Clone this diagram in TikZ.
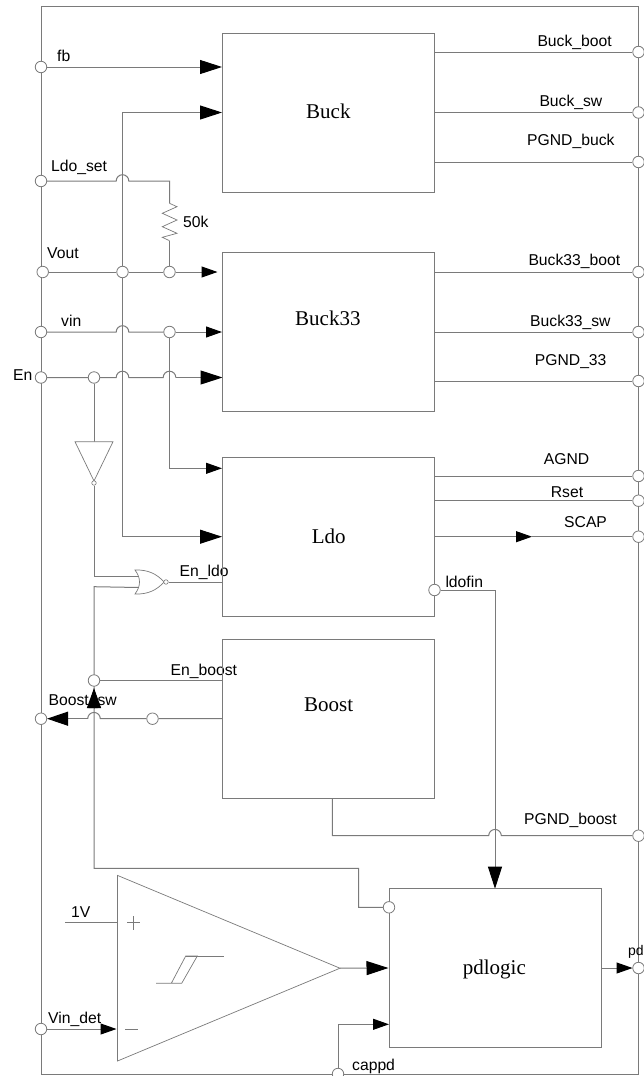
\documentclass[tikz,border=0pt]{standalone}
\usepackage{fontspec}
\setmainfont{Liberation Sans}
\newfontfamily\blockfont{Liberation Serif}
\usetikzlibrary{arrows.meta,backgrounds,calc}
\definecolor{ln}{HTML}{7A7A7A}
\tikzset{
  wire/.style={draw=ln,line width=1pt},
  thin shape/.style={draw=ln,line width=.7pt,fill=white},
  pin/.style={circle,draw=ln,line width=.8pt,fill=white,minimum size=11.5pt,inner sep=0pt},
  dot/.style={circle,draw=ln,line width=.6pt,fill=white,minimum size=4.5pt,inner sep=0pt},
  block/.style={rectangle,draw=ln,line width=1pt,minimum width=212pt,minimum height=159pt,inner sep=0pt},
  lbl/.style={anchor=base west,inner sep=0pt,font=\fontsize{15.7}{18}\selectfont},
  blbl/.style={anchor=base west,inner sep=0pt,font=\blockfont\fontsize{21}{24}\selectfont},
  big/.style={wire,-{Triangle[length=22pt,width=14pt,color=black,fill=black]}},
  small/.style={wire,-{Triangle[length=16pt,width=11pt,color=black,fill=black]}},
}
\begin{document}
\begin{tikzpicture}[x=1pt,y=-1pt]
\useasboundingbox (0,0) rectangle (644,1076);
% blocks
\node[block] (buck) at (328.5,112.5) {};
\node[block] (buck33) at (328.5,332) {};
\node[block] (ldo) at (328.5,536.7) {};
\node[block] (boost) at (328.5,718.5) {};
\node[block] (pdl) at (495,968) {};
\node[blbl] (tbuck) at (306,118.3) {Buck};
\node[blbl] (tbuckb) at (295,325) {Buck33};
\node[blbl] (tldo) at (311.7,543) {Ldo};
\node[blbl] (tboost) at (304,711.7) {Boost};
\node[blbl] (tpd) at (462.7,974) {pdlogic};
% left pins
\node[pin] (fb) at (41,67) {};
\node[pin] (ldoset) at (41,181) {};
\node[pin] (vout) at (42.7,272) {};
\node[pin] (vin) at (41,332) {};
\node[pin] (en) at (41,377.5) {};
\node[pin] (bsw) at (41,718.7) {};
\node[pin] (vindet) at (41,1029) {};
% right pins
\node[pin] (rbb) at (638.5,52) {};
\node[pin] (rbs) at (638.5,112.5) {};
\node[pin] (rpb) at (638.5,162) {};
\node[pin] (r3b) at (638.5,272) {};
\node[pin] (r3s) at (638.5,332) {};
\node[pin] (rp3) at (638.5,381) {};
\node[pin] (ragnd) at (638.5,476) {};
\node[pin] (rrset) at (638.5,500.7) {};
\node[pin] (rscap) at (638.5,536.7) {};
\node[pin] (rpgb) at (638.5,835.7) {};
\node[pin] (rpd) at (638.5,968) {};
% inner junctions
\node[pin] (jv1) at (122.5,272) {};
\node[pin] (jv2) at (169.5,272) {};
\node[pin] (jvin) at (169.5,332) {};
\node[pin] (jen) at (94,377.5) {};
\node[pin] (jenb) at (94,680.5) {};
\node[pin] (jbsw) at (152.5,718.7) {};
\node[pin] (ldofin) at (434.5,590) {};
\node[pin] (pdin) at (389,907.3) {};
\node[pin] (cappd) at (338,1074) {};
% inverter
\draw[thin shape] (75,441.7) -- (113,441.7) -- (94,481) -- cycle;
\coordinate (invin) at (94,441.7);
\node[dot] (invb) at (94,483) {};
% NOR gate
\draw[thin shape] (135,570) .. controls (148,569.5) and (157,574) .. (164,582)
   .. controls (157,590) and (148,594.5) .. (135,594)
   .. controls (141,586) and (141,578) .. (135,570) -- cycle;
\node[dot] (norb) at (166,582) {};
\coordinate (nora) at (137.5,576.3);
\coordinate (norc) at (138.8,587.5);
% comparator
\draw[thin shape] (117.5,875.4) -- (340,968.2) -- (117.5,1061) -- cycle;
\coordinate (cmpout) at (340,968.2);
\coordinate (cmpp) at (117.5,922.7);
\draw[ln,line width=.7pt] (127,922.7) -- (140,922.7) (133.5,916) -- (133.5,930);
\draw[ln,line width=.7pt] (125,1029) -- (138,1029);
\draw[ln,line width=.7pt] (156,983.3) -- (181.7,983.3) -- (197.3,956) -- (185.7,956) -- (171.3,983.3);
\draw[ln,line width=.7pt] (185.7,956) -- (223.7,956);
% resistor
\coordinate (rtop) at (169.5,203.3);
\coordinate (rbot) at (169.5,240.7);
\draw[ln,line width=.7pt] (rtop) -- (177,206.7) -- (162.3,213.3) -- (177,220) -- (162.3,226.7) -- (177,233.3) -- (162.3,237.3) -- (rbot);
% free ends and midpoints
\coordinate (onev) at (65,922.7);
\coordinate (cmpn) at (116.5,1029);
\coordinate (scapm) at (532,536.7);
\coordinate (pdm) at (632.5,968);
\begin{scope}[on background layer]
% frame
\draw[wire] (41,6.5) rectangle (638.5,1074);
% labels
\node[lbl] (lfb) at (57,61.5) {fb};
\node[lbl] (lls) at (51,171.7) {Ldo\_set};
\node[lbl] (l50) at (183,227.3) {50k};
\node[lbl] (lvo) at (47,258.3) {Vout};
\node[lbl] (lvi) at (61,326.7) {vin};
\node[lbl] (len) at (13,380) {En};
\node[lbl] (lel) at (179.5,576.7) {En\_ldo};
\node[lbl] (leb) at (170.5,675) {En\_boost};
\node[lbl] (lbs) at (48.5,705) {Boost\_sw};
\node[lbl] (l1v) at (71,917.3) {1V};
\node[lbl] (lvd) at (48,1023.3) {Vin\_det};
\node[lbl] (lcp) at (352,1070.7) {cappd};
\node[lbl] (l1) at (537.3,46.3) {Buck\_boot};
\node[lbl] (l2) at (539.3,106.7) {Buck\_sw};
\node[lbl] (l3) at (527,145.3) {PGND\_buck};
\node[lbl] (l4) at (528.3,265.7) {Buck33\_boot};
\node[lbl] (l5) at (530,326.3) {Buck33\_sw};
\node[lbl] (l6) at (534.7,365) {PGND\_33};
\node[lbl] (l7) at (543.7,464) {AGND};
\node[lbl] (l8) at (550.7,497.3) {Rset};
\node[lbl] (l9) at (564,527.3) {SCAP};
\node[lbl] (l10) at (445.3,587.7) {ldofin};
\node[lbl] (l11) at (524,824) {PGND\_boost};
\node[lbl,font=\fontsize{14}{16}\selectfont] (l12) at (628,955.7) {pd};
% inputs
\draw[big] (fb) -- (fb -| buck.west);
\draw[big] (jv1) -- (122.5,112.5) -- (buck.west);
\draw[wire] (jv1) -- (122.5,536.7);
\draw[big] (122.5,536.7) -- (ldo.west);
\draw[wire] (ldoset) -- (116.2,181) arc[start angle=180,end angle=360,radius=6.3] -- (169.5,181) -- (rtop);
\draw[wire] (rbot) -- (jv2);
\draw[wire] (vout) -- (jv1) -- (jv2);
\draw[small,shorten >=4.5pt] (jv2) -- (jv2 -| buck33.west);
\draw[wire] (vin) -- (116.2,332) arc[start angle=180,end angle=360,radius=6.3] -- (jvin);
\draw[small] (jvin) -- (jvin -| buck33.west);
\draw[wire] (en) -- (jen) -- (116.2,377.5) arc[start angle=180,end angle=360,radius=6.3] -- (163.2,377.5) arc[start angle=180,end angle=360,radius=6.3];
\draw[big] (175.8,377.5) -- (222.5,377.5);
\draw[small] (jvin) -- (169.5,468.3) -- (ldo.west |- 0,468.3);
\draw[wire] (jen) -- (invin);
\draw[wire] (invb) -- (94,576.3) -- (nora);
\draw[wire] (norb) -- (norb -| ldo.west);
\draw[wire] (norc) -- (94,586.7) -- (94,868.3) -- (358.7,868.3) -- (358.7,907.3) -- (pdin);
\draw[wire] (jenb) -- (jenb -| boost.west);
\draw[wire,-{Triangle[length=20pt,width=14pt,color=black,fill=black]}] (94,708) -- (94,688);
\draw[wire] (boost.west) -- (jbsw);
\draw[wire] (jbsw) -- (100.3,718.7) arc[start angle=0,end angle=-180,radius=6.3];
\draw[wire,-{Triangle[length=21pt,width=14pt,color=black,fill=black]}] (87.7,718.7) -- (47,718.7);
% outputs
\draw[wire] (rbb -| buck.east) -- (rbb);
\draw[wire] (buck.east) -- (rbs);
\draw[wire] (rpb -| buck.east) -- (rpb);
\draw[wire] (r3b -| buck33.east) -- (r3b);
\draw[wire] (buck33.east |- r3s) -- (r3s);
\draw[wire] (rp3 -| buck33.east) -- (rp3);
\draw[wire] (ragnd -| ldo.east) -- (ragnd);
\draw[wire] (rrset -| ldo.east) -- (rrset);
\draw[small] (ldo.east) -- (scapm);
\draw[wire] (scapm) -- (rscap);
\draw[big] (ldofin) -- (495,590) -- (495,888.7);
\draw[wire] (332.3,798) -- (332.3,835.7) -- (488.7,835.7) arc[start angle=180,end angle=360,radius=6.3] -- (rpgb);
% comparator and pdlogic
\draw[wire] (onev) -- (cmpp);
\draw[small] (vindet) -- (cmpn);
\draw[big] (cmpout) -- (pdl.west);
\draw[small] (cappd) -- (338,1024.3) -- (389,1024.3);
\draw[small] (pdl.east) -- (pdm);
\end{scope}
\end{tikzpicture}
\end{document}
